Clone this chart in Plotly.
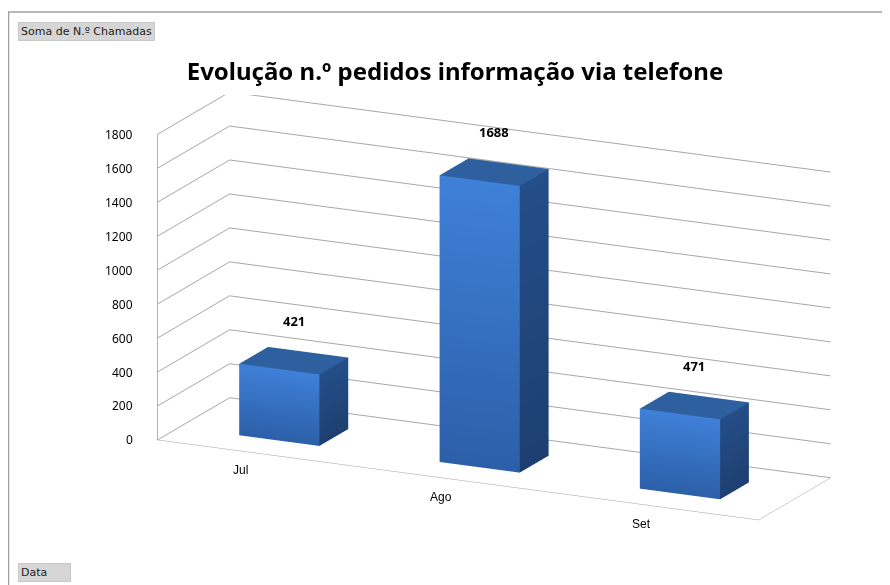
import plotly.graph_objects as go

categories = ["Jul", "Ago", "Set"]
values = [421, 1688, 471]
z_ticks = [0, 200, 400, 600, 800, 1000, 1200, 1400, 1600, 1800]
title_text = "Evolução n.º pedidos informação via telefone"

W, H = 882, 577


def px(X):
    return (X - 8) / W


def py(Y):
    return 1 - (Y - 8) / H


X_RANGE = [-0.5, len(categories) - 0.5]
Z_RANGE = [0, 1800]
BAR_W = 0.4
Y0, Y1 = 0.3, 0.7

FRONT_TOP = "#3f80d8"
FRONT_BOT = "#2c5fa8"
SIDE_TOP = "#244e88"
SIDE_BOT = "#1d3f70"
TOP_C = "#2e609f"


def bar_mesh(xc, h):
    x0, x1 = xc - BAR_W / 2, xc + BAR_W / 2
    xs, ys, zs, cols, I, J, K = [], [], [], [], [], [], []

    def quad(pts, colors):
        b = len(xs)
        for (qx, qy, qz), c in zip(pts, colors):
            xs.append(qx); ys.append(qy); zs.append(qz); cols.append(c)
        I.extend([b, b]); J.extend([b + 1, b + 2]); K.extend([b + 2, b + 3])

    quad([(x0, Y0, 0), (x1, Y0, 0), (x1, Y0, h), (x0, Y0, h)],
         [FRONT_BOT, FRONT_BOT, FRONT_TOP, FRONT_TOP])
    quad([(x0, Y1, 0), (x1, Y1, 0), (x1, Y1, h), (x0, Y1, h)], [FRONT_BOT] * 4)
    quad([(x1, Y0, 0), (x1, Y1, 0), (x1, Y1, h), (x1, Y0, h)],
         [SIDE_BOT, SIDE_BOT, SIDE_TOP, SIDE_TOP])
    quad([(x0, Y0, 0), (x0, Y1, 0), (x0, Y1, h), (x0, Y0, h)], [SIDE_BOT] * 4)
    quad([(x0, Y0, h), (x1, Y0, h), (x1, Y1, h), (x0, Y1, h)], [TOP_C] * 4)
    quad([(x0, Y0, 0), (x1, Y0, 0), (x1, Y1, 0), (x0, Y1, 0)], [TOP_C] * 4)
    return go.Mesh3d(x=xs, y=ys, z=zs, i=I, j=J, k=K, vertexcolor=cols,
                     flatshading=True, hoverinfo="skip", showscale=False,
                     lighting=dict(ambient=1, diffuse=0, specular=0,
                                   roughness=1, fresnel=0))


fig = go.Figure()
for idx, v in enumerate(values):
    fig.add_trace(bar_mesh(idx, v))

# vertical value axis line on the front-left edge
fig.add_trace(go.Scatter3d(x=[X_RANGE[0], X_RANGE[0]], y=[0, 0], z=Z_RANGE,
                           mode="lines", line=dict(color="#8c8c8c", width=1.5),
                           hoverinfo="skip", showlegend=False))

axis_common = dict(showbackground=False, gridcolor="#a6a6a6", showspikes=False,
                   zeroline=False, title=dict(text=""), linecolor="#a0a0a0",
                   showline=True, tickangle=0)

anns = []
for i, v in enumerate(values):
    anns.append(dict(x=i, y=0.5, z=v, text="<b>%d</b>" % v, showarrow=False,
                     yshift=40,
                     font=dict(family="Noto Sans", size=13, color="#000")))
for i, c in enumerate(categories):
    anns.append(dict(x=i, y=0, z=0, text=c, showarrow=False, xshift=-17,
                     yshift=-17,
                     font=dict(family="Liberation Sans", size=12, color="#000")))
for t in z_ticks:
    anns.append(dict(x=X_RANGE[0], y=0, z=t, text=str(t), showarrow=False,
                     xanchor="right", xshift=-22,
                     font=dict(family="Noto Sans", size=12, color="#000")))

k = 0.906
shift = (-0.165 * k, -0.126 * k, -0.147 * k)
direction = (0.413, -0.866, 0.279)
eye = tuple(2.18 * d + s for d, s in zip(direction, shift))

fig.update_layout(
    width=W, height=H,
    margin=dict(l=0, r=0, t=0, b=0),
    paper_bgcolor="white",
    showlegend=False,
    title=dict(text="<b>" + title_text + "</b>", x=px(455), y=py(72),
               xanchor="center", yanchor="middle",
               font=dict(family="Noto Sans", size=24, color="#000000")),
    scene=dict(
        domain=dict(x=[0.0, 1.0], y=[0.0, py(95)]),
        xaxis=dict(axis_common, range=X_RANGE, tickvals=[0, 1, 2],
                   ticktext=categories, showgrid=False, showticklabels=False),
        yaxis=dict(axis_common, range=[0, 1], showgrid=False,
                   showticklabels=False),
        zaxis=dict(axis_common, range=Z_RANGE, tickvals=z_ticks,
                   showticklabels=False),
        aspectmode="manual",
        aspectratio=dict(x=3 * k, y=0.755 * k, z=1.434 * k),
        camera=dict(eye=dict(x=eye[0], y=eye[1], z=eye[2]),
                    center=dict(x=shift[0], y=shift[1], z=shift[2]),
                    projection=dict(type="orthographic")),
        annotations=anns,
    ),
)

fig.add_annotation(text="Soma de N.º Chamadas", x=px(18), y=py(22),
                   xref="paper", yref="paper", xanchor="left", yanchor="top",
                   showarrow=False, bgcolor="#d6d6d6", bordercolor="#c8c8c8",
                   borderwidth=1, borderpad=2,
                   font=dict(family="DejaVu Sans", size=11, color="#222"))
fig.add_annotation(text="Data      ", x=px(18), y=py(563),
                   xref="paper", yref="paper", xanchor="left", yanchor="top",
                   showarrow=False, bgcolor="#d6d6d6", bordercolor="#c8c8c8",
                   borderwidth=1, borderpad=2,
                   font=dict(family="DejaVu Sans", size=11, color="#222"))
fig.add_shape(type="line", xref="paper", yref="paper", x0=px(8), x1=1.02,
              y0=py(12), y1=py(12), line=dict(color="#a0a0a0", width=1.5))
fig.add_shape(type="line", xref="paper", yref="paper", x0=px(8.5), x1=px(8.5),
              y0=py(12), y1=-0.02, line=dict(color="#a0a0a0", width=1.5))

fig.write_html("out.html")
